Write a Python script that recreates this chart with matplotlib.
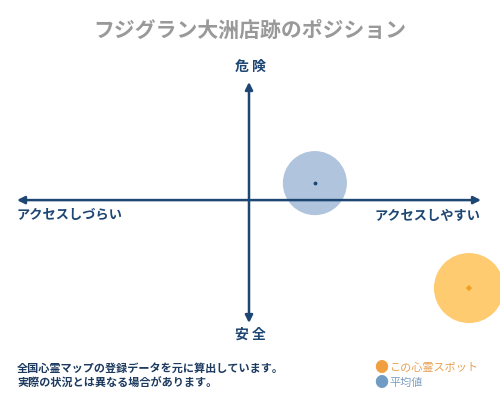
import matplotlib.pyplot as plt
import matplotlib as mpl

mpl.rcParams['font.family'] = ['Noto Sans CJK JP', 'DejaVu Sans']

# data (position on the access / danger plane)
title = 'フジグラン大洲店跡のポジション'
spot_x = [0.948]
spot_y = [-0.730]
avg_x = [0.284]
avg_y = [0.141]
spot_size = [2540]
avg_size = [2130]

navy = '#1d4673'

fig = plt.figure(figsize=(5, 4), dpi=100)
ax = fig.add_axes([17 / 500, 77 / 400, 464 / 500, 241 / 400])
ax.set_xlim(-1, 1)
ax.set_ylim(-1.02, 0.98)
ax.axis('off')

# axes arrows
arrow = dict(arrowstyle='<|-|>', color=navy, lw=1.8, mutation_scale=11,
             shrinkA=0, shrinkB=0)
ax.annotate('', xy=(1, 0), xytext=(-1, 0), arrowprops=arrow, zorder=3)
ax.annotate('', xy=(0, 0.98), xytext=(0, -1.02), arrowprops=arrow, zorder=3)

# circles
ax.scatter(avg_x, avg_y, s=avg_size, color='#b0c4dd', edgecolors='none',
           zorder=2, clip_on=False)
ax.scatter(avg_x, avg_y, s=3, color=navy, zorder=4)
ax.scatter(spot_x, spot_y, s=spot_size, color='#ffcb70', edgecolors='none',
           zorder=2, clip_on=False)
ax.scatter(spot_x, spot_y, s=10, marker='D', color='#f0a020', edgecolors='none',
           zorder=4, clip_on=False)

# texts
fig.text(0.5, 1 - 30 / 400, title, ha='center', va='center', fontsize=15,
         color='#999999', fontweight='bold')
fig.text(0.5, 1 - 67 / 400, '危 険', ha='center', va='center', fontsize=10,
         color=navy, fontweight='bold')
fig.text(0.5, 1 - 335 / 400, '安 全', ha='center', va='center', fontsize=10,
         color=navy, fontweight='bold')
fig.text(17 / 500, 1 - 215 / 400, 'アクセスしづらい', ha='left', va='center',
         fontsize=9.5, color=navy, fontweight='bold')
fig.text(481 / 500, 1 - 216 / 400, 'アクセスしやすい', ha='right', va='center',
         fontsize=9.5, color=navy, fontweight='bold')

fig.text(17 / 500, 1 - 368 / 400, '全国心霊マップの登録データを元に算出しています。',
         ha='left', va='center', fontsize=8, color='#1d3a5f', fontweight='bold')
fig.text(17 / 500, 1 - 383 / 400, '実際の状況とは異なる場合があります。',
         ha='left', va='center', fontsize=8, color='#1d3a5f', fontweight='bold')

fig.text(381 / 500, 1 - 368 / 400, '●', ha='center', va='center', fontsize=10,
         color='#f0a040')
fig.text(389 / 500, 1 - 368 / 400, 'この心霊スポット', ha='left', va='center',
         fontsize=8, color='#e8a050')
fig.text(381 / 500, 1 - 383 / 400, '●', ha='center', va='center', fontsize=10,
         color='#6f9bc4')
fig.text(389 / 500, 1 - 383 / 400, '平均値', ha='left', va='center',
         fontsize=8, color='#7fa0c0')

fig.savefig('out.png', dpi=100)
